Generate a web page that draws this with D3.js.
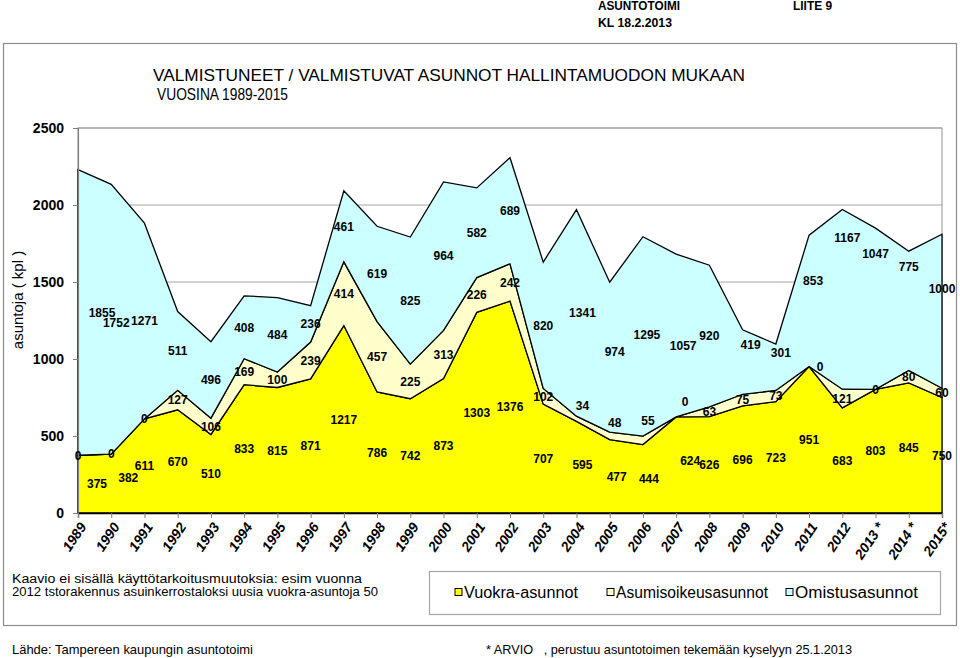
<!DOCTYPE html>
<html>
<head>
<meta charset="utf-8">
<script src="https://cdn.jsdelivr.net/npm/d3@7"></script>
<style>
  html, body { margin: 0; padding: 0; background: #fff; }
  svg { display: block; }
  text { font-family: "Liberation Sans", Arial, sans-serif; }
  .narrow { font-family: "Liberation Sans Narrow", "Arial Narrow", "Liberation Sans", Arial, sans-serif; }
</style>
</head>
<body>
<svg id="chart" width="960" height="658"></svg>
<script>
// ---------- data ----------
const years = ["1989","1990","1991","1992","1993","1994","1995","1996","1997","1998","1999","2000",
  "2001","2002","2003","2004","2005","2006","2007","2008","2009","2010","2011","2012","2013 *","2014 *","2015*"];
const vuokra = [375,382,611,670,510,833,815,871,1217,786,742,873,1303,1376,707,595,477,444,624,626,696,723,951,683,803,845,750];
const asumisoikeus = [0,0,0,127,106,169,100,239,414,457,225,313,226,242,102,34,48,55,0,63,75,73,0,121,0,80,60];
const omistus = [1855,1752,1271,511,496,408,484,236,461,619,825,964,582,689,820,1341,974,1295,1057,920,419,301,853,1167,1047,775,1000];
const seriesNames = ["Vuokra-asunnot","Asumisoikeusasunnot","Omistusasunnot"];
const yTicks = [0,500,1000,1500,2000,2500];

// ---------- styling / layout ----------
const colors = ["#FFFF00", "#FFFFCC", "#CCFFFF"];
const keys = ["vuokra","asumisoikeus","omistus"];
const X0 = 78, X1 = 942, Y0 = 513, Y1 = 128;
// manual label nudges (dx, dy) as in the original chart
const nudge = {
  "vuokra-0":[19,0], "vuokra-1":[17,-6], "vuokra-15":[6,-3], "vuokra-16":[7,0], "vuokra-17":[6,0], "vuokra-18":[14,-4],
  "asumisoikeus-15":[6,-13], "asumisoikeus-16":[5,-13], "asumisoikeus-17":[5,-20], "asumisoikeus-18":[9,-15], "asumisoikeus-22":[11,0],
  "omistus-0":[24,0], "omistus-1":[5,3], "omistus-15":[6,0], "omistus-16":[5,-5], "omistus-17":[4,-2], "omistus-18":[7,10],
  "omistus-20":[8,-17], "omistus-21":[5,-15], "omistus-22":[4,-20], "omistus-23":[5,-62], "omistus-24":[0,-55],
  "omistus-25":[0,-44], "omistus-26":[0,-23]
};

const table = years.map((y, i) => ({ year: y, vuokra: vuokra[i], asumisoikeus: asumisoikeus[i], omistus: omistus[i] }));

const svg = d3.select("#chart");
svg.append("rect").attr("width", 960).attr("height", 658).attr("fill", "#fff");

// header
svg.append("text").attr("class","narrow").attr("x",598).attr("y",10).attr("font-size",12).attr("font-weight","bold")
  .attr("textLength",82).attr("lengthAdjust","spacingAndGlyphs").text("ASUNTOTOIMI");
svg.append("text").attr("class","narrow").attr("x",793).attr("y",10).attr("font-size",12).attr("font-weight","bold")
  .attr("textLength",39).attr("lengthAdjust","spacingAndGlyphs").text("LIITE 9");
svg.append("text").attr("class","narrow").attr("x",598).attr("y",27).attr("font-size",12).attr("font-weight","bold")
  .attr("textLength",74).attr("lengthAdjust","spacingAndGlyphs").text("KL 18.2.2013");

// frame
svg.append("rect").attr("x",3.5).attr("y",43.5).attr("width",953).attr("height",582)
  .attr("fill","none").attr("stroke","#8c8c8c").attr("stroke-width",1.2);

// title
svg.append("text").attr("class","narrow").attr("x",153).attr("y",81).attr("font-size",17)
  .attr("textLength",592).attr("lengthAdjust","spacingAndGlyphs")
  .text("VALMISTUNEET / VALMISTUVAT ASUNNOT HALLINTAMUODON MUKAAN");
svg.append("text").attr("class","narrow").attr("x",157).attr("y",100).attr("font-size",17)
  .attr("textLength",131).attr("lengthAdjust","spacingAndGlyphs")
  .text("VUOSINA 1989-2015");

// scales
const x = d3.scalePoint().domain(years).range([X0, X1]);
const y = d3.scaleLinear().domain([0, 2500]).range([Y0, Y1]);

// gridlines
svg.append("g").selectAll("line").data(yTicks.filter(t => t > 0)).join("line")
  .attr("x1", X0).attr("x2", X1).attr("y1", d => y(d)).attr("y2", d => y(d))
  .attr("stroke", "#a6a6a6").attr("stroke-width", 1.2);
// plot border
svg.append("rect").attr("x", X0).attr("y", Y1).attr("width", X1 - X0).attr("height", Y0 - Y1)
  .attr("fill", "none").attr("stroke", "#a6a6a6").attr("stroke-width", 1.2);

// stacked areas
const stack = d3.stack().keys(keys);
const layers = stack(table);
const area = d3.area().x(d => x(d.data.year)).y0(d => y(d[0])).y1(d => y(d[1]));
svg.append("g").selectAll("path").data(layers).join("path")
  .attr("d", area).attr("fill", (d, i) => colors[i])
  .attr("stroke", "#000").attr("stroke-width", 1.3).attr("stroke-linejoin", "miter");

// y axis
const yAxis = d3.axisLeft(y).tickValues(yTicks).tickFormat(d3.format("d")).tickSize(5).tickPadding(9);
const gy = svg.append("g").attr("transform", `translate(${X0},0)`).call(yAxis);
gy.select(".domain").attr("stroke", "#808080").attr("stroke-width", 1.2);
gy.selectAll(".tick line").attr("stroke", "#808080");
gy.selectAll(".tick text").attr("font-size", 14).attr("font-weight", "bold")
  .attr("font-family", "Liberation Sans, Arial, sans-serif").attr("fill", "#000");

// x axis
const xAxis = d3.axisBottom(x).tickSize(5).tickFormat("");
const gx = svg.append("g").attr("transform", `translate(0,${Y0})`).call(xAxis);
gx.select(".domain").attr("stroke", "#000").attr("stroke-width", 1.3);
gx.selectAll(".tick line").attr("stroke", "#808080");
svg.append("g").selectAll("text").data(years).join("text")
  .attr("transform", d => `translate(${x(d) + 5},${Y0 + 11}) rotate(-56)`)
  .attr("text-anchor", "end").attr("dy", "0.35em")
  .attr("font-size", 14).attr("font-weight", "bold").attr("font-style", "italic")
  .text(d => d);

// y axis title
svg.append("text").attr("transform", "translate(23,300) rotate(-90)").attr("text-anchor","middle")
  .attr("font-size", 15).text("asuntoja ( kpl )");

// data labels
const labelG = svg.append("g");
layers.forEach((layer, li) => {
  layer.forEach((d, i) => {
    const k = keys[li] + "-" + i;
    const n = nudge[k] || [0, 0];
    labelG.append("text")
      .attr("x", x(d.data.year) + n[0])
      .attr("y", y((d[0] + d[1]) / 2) + n[1])
      .attr("dy", "0.36em").attr("text-anchor", "middle")
      .attr("font-size", 12).attr("font-weight", "bold").attr("fill", "#000")
      .text(d.data[keys[li]]);
  });
});

// note
svg.append("text").attr("class","narrow").attr("x",12).attr("y",583).attr("font-size",12)
  .attr("textLength",350).attr("lengthAdjust","spacingAndGlyphs")
  .text("Kaavio ei sisällä käyttötarkoitusmuutoksia: esim vuonna");
svg.append("text").attr("class","narrow").attr("x",12).attr("y",596).attr("font-size",12)
  .attr("textLength",366).attr("lengthAdjust","spacingAndGlyphs")
  .text("2012 tstorakennus asuinkerrostaloksi uusia vuokra-asuntoja 50");

// legend
svg.append("rect").attr("x",429.5).attr("y",571.5).attr("width",511).attr("height",43)
  .attr("fill","#fff").attr("stroke","#a6a6a6").attr("stroke-width",1.2);
const legendItems = [
  { sq: 455, tx: 464, w: 114 },
  { sq: 607, tx: 616, w: 152 },
  { sq: 786, tx: 795, w: 123 }
];
legendItems.forEach((it, i) => {
  svg.append("rect").attr("x", it.sq).attr("y", 588.5).attr("width", 7).attr("height", 7)
    .attr("fill", colors[i]).attr("stroke", "#000").attr("stroke-width", 1);
  svg.append("text").attr("class","narrow").attr("x", it.tx).attr("y", 598).attr("font-size", 16)
    .attr("textLength", it.w).attr("lengthAdjust","spacingAndGlyphs").text(seriesNames[i]);
});

// footer
svg.append("text").attr("class","narrow").attr("x",12).attr("y",654).attr("font-size",13)
  .attr("textLength",241).attr("lengthAdjust","spacingAndGlyphs")
  .text("Lähde: Tampereen kaupungin asuntotoimi");
svg.append("text").attr("class","narrow").attr("x",486).attr("y",654).attr("font-size",13)
  .attr("textLength",366).attr("lengthAdjust","spacingAndGlyphs")
  .attr("xml:space","preserve")
  .text("* ARVIO   , perustuu asuntotoimen tekemään kyselyyn 25.1.2013");
</script>
</body>
</html>
